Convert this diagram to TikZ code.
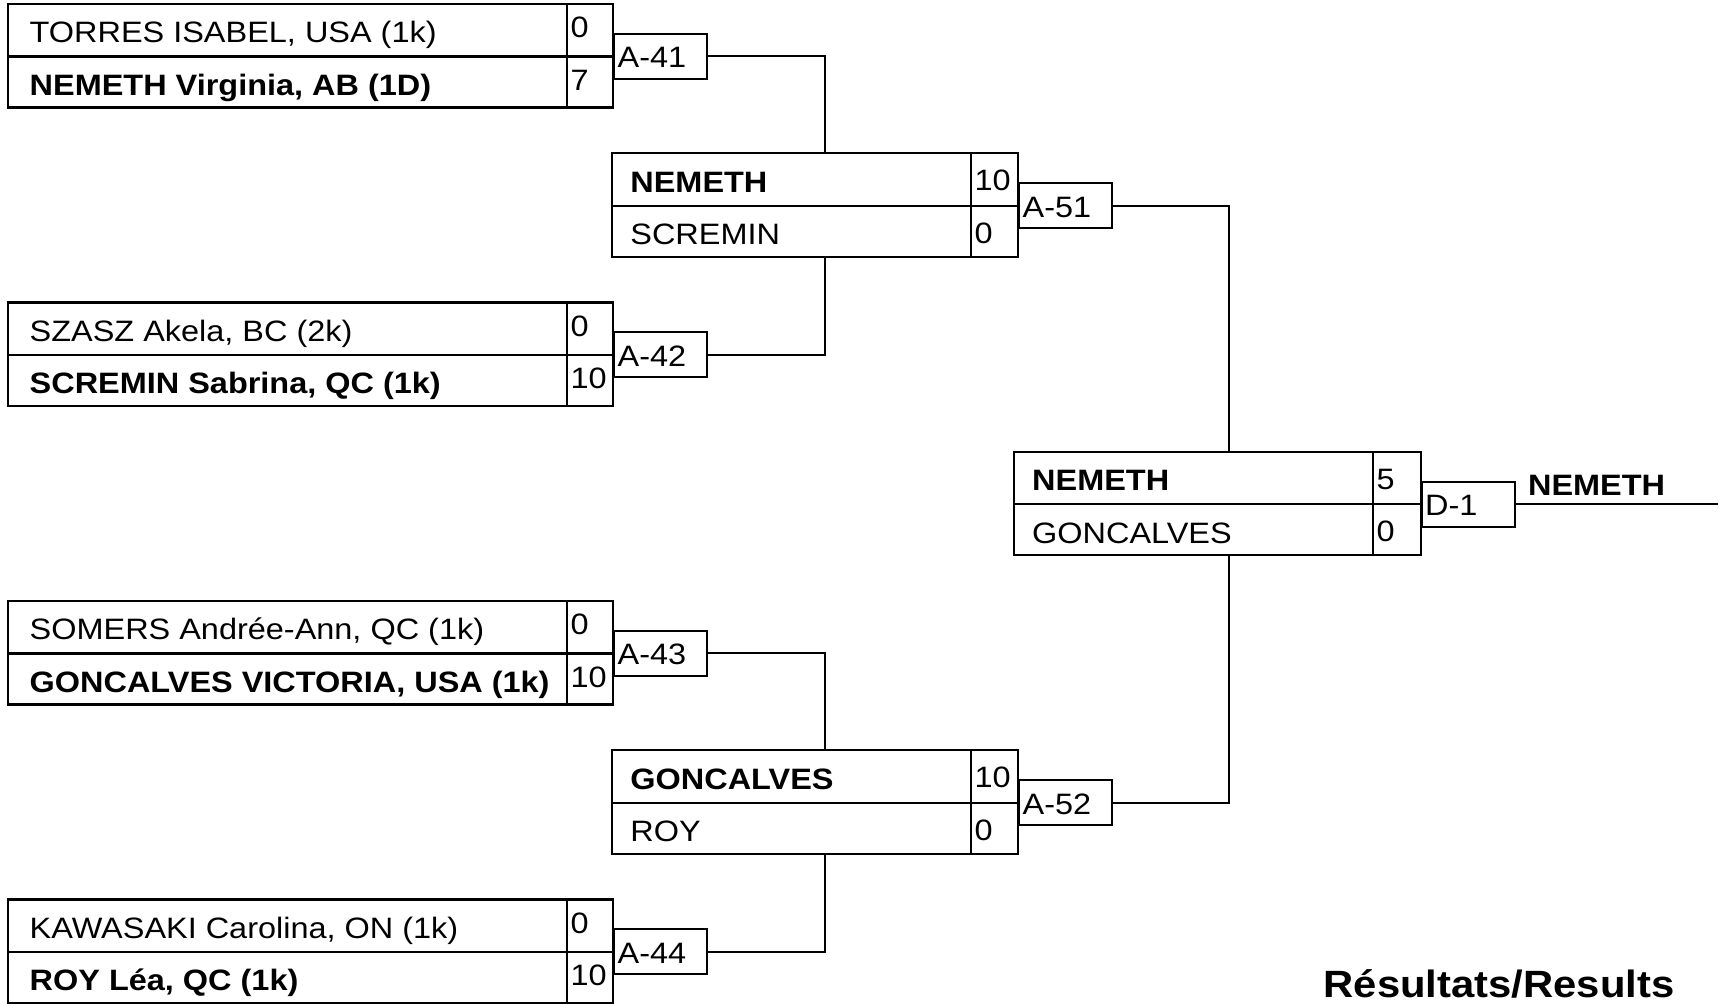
\documentclass[tikz,border=0pt]{standalone}
\usepackage{fontspec}
\setmainfont{Liberation Sans}[FakeStretch=1.1]
\newcommand{\bracketbox}[9]{%
  \draw[boxline] (#2,#3) rectangle (#5,#3+103.5);
  \draw[boxline] (#2,#3+52.5) -- (#5,#3+52.5);
  \draw[boxline] (#4,#3) -- (#4,#3+103.5);
  \node[nm] (#1-p1) at (#2+\nmin,#3+39) {#6};
  \node[nm] (#1-p2) at (#2+\nmin,#3+52.5+39) {#8};
  \node[sc] (#1-s1) at (#4+3.5,#3+\scoff) {#7};
  \node[sc] (#1-s2) at (#4+3.5,#3+52.5+\scoff) {#9};
}
\newcommand{\matchlabel}[4]{% name, left x, mid y, text
  \node[lblbox, anchor=west] (#1) at (#2,#3) {};
  \node[sc] (#1-t) at (#2+4,#3+11.5) {#4};
}
\begin{document}
\begin{tikzpicture}[x=0.5pt,y=-0.5pt,
  boxline/.style={line width=1.1pt},
  conn/.style={line width=1pt},
  nm/.style={anchor=base west, inner sep=0pt, font=\fontsize{14.75}{17}\selectfont},
  sc/.style={anchor=base west, inner sep=0pt, font=\fontsize{14.75}{17}\selectfont},
  lblbox/.style={draw, line width=1pt, inner sep=0pt, minimum width=46.5pt, minimum height=22.5pt},
  wintext/.style={anchor=base west, inner sep=0pt, font=\fontsize{14.75}{17}\selectfont\bfseries},
  title/.style={anchor=base west, inner sep=0pt, font=\fontsize{19}{22}\selectfont\bfseries}]
\useasboundingbox (0,0) rectangle (1726,1004);

% ---- round 1 ----
\def\nmin{21}\def\scoff{34}
\bracketbox{m41}{8.3}{4}{566.7}{613.3}{TORRES ISABEL, USA (1k)}{0}{\textbf{NEMETH Virginia, AB (1D)}}{7}
\bracketbox{m42}{8.3}{302.5}{566.7}{613.3}{SZASZ Akela, BC (2k)}{0}{\textbf{SCREMIN Sabrina, QC (1k)}}{10}
\bracketbox{m43}{8.3}{601}{566.7}{613.3}{SOMERS Andrée-Ann, QC (1k)}{0}{\textbf{GONCALVES VICTORIA, USA (1k)}}{10}
\bracketbox{m44}{8.3}{899.5}{566.7}{613.3}{KAWASAKI Carolina, ON (1k)}{0}{\textbf{ROY Léa, QC (1k)}}{10}
\matchlabel{A41}{613.3}{56.5}{A-41}
\matchlabel{A42}{613.3}{355}{A-42}
\matchlabel{A43}{613.3}{653.5}{A-43}
\matchlabel{A44}{613.3}{952}{A-44}

% ---- round 2 ----
\def\nmin{18}\def\scoff{37.5}
\bracketbox{m51}{612}{153.25}{970.7}{1018.3}{\textbf{NEMETH}}{10}{SCREMIN}{0}
\bracketbox{m52}{612}{750.25}{970.7}{1018.3}{\textbf{GONCALVES}}{10}{ROY}{0}
\matchlabel{A51}{1018.3}{205.75}{A-51}
\matchlabel{A52}{1018.3}{802.75}{A-52}
\coordinate (m51-top) at (825,153.25);
\coordinate (m51-bot) at (825,256.75);
\coordinate (m52-top) at (825,750.25);
\coordinate (m52-bot) at (825,853.75);
\draw[conn] (A41.east) -| (m51-top);
\draw[conn] (A42.east) -| (m51-bot);
\draw[conn] (A43.east) -| (m52-top);
\draw[conn] (A44.east) -| (m52-bot);

% ---- round 3 ----
\bracketbox{d1}{1013.8}{451.75}{1372.7}{1420.7}{\textbf{NEMETH}}{5}{GONCALVES}{0}
\matchlabel{D1}{1420.7}{504.25}{D-1}
\coordinate (d1-top) at (1229.3,451.75);
\coordinate (d1-bot) at (1229.3,555.25);
\draw[conn] (A51.east) -| (d1-top);
\draw[conn] (A52.east) -| (d1-bot);

% ---- winner ----
\coordinate (wend) at (1718.3,504.25);
\draw[conn] (D1.east) -- (wend);
\node[wintext] (winner) at (1527.7,496) {NEMETH};

\node[title] (results) at (1323.3,997.3) {Résultats/Results};
\end{tikzpicture}
\end{document}
